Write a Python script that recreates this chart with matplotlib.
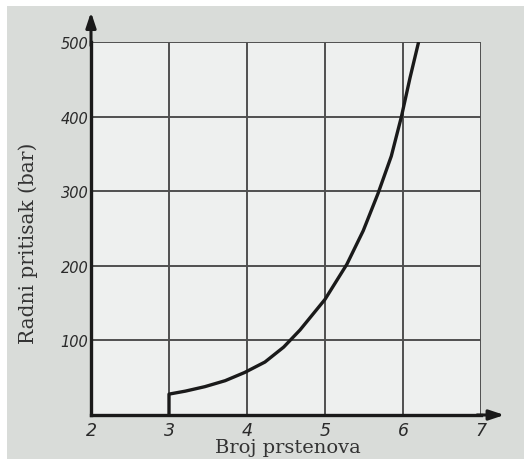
import matplotlib
matplotlib.use("Agg")
import matplotlib.pyplot as plt
from matplotlib.patches import Rectangle

# Data
rings = [3.0, 3.0, 3.21, 3.46, 3.72, 3.97, 4.23, 4.47, 4.68, 5.0, 5.28, 5.49,
         5.68, 5.85, 5.98, 6.09, 6.20]
pressure = [0, 28, 32, 38, 46, 57, 71, 91, 114, 155, 202, 247,
            297, 347, 400, 452, 500]
x_ticks = [2, 3, 4, 5, 6, 7]
y_ticks = [100, 200, 300, 400, 500]
x_label = "Broj prstenova"
y_label = "Radni pritisak (bar)"

W, H = 524, 460
fig = plt.figure(figsize=(W / 100, H / 100), dpi=100, facecolor="white")
# scanned page background
fig.patches.append(Rectangle((7 / W, 0), 1, 1 - 7 / H, transform=fig.transFigure,
                             facecolor="#d9dcd9", edgecolor="none", zorder=-10))

ax = fig.add_axes([91 / W, 1 - 416 / H, 390 / W, 373 / H])
ax.set_facecolor("#eef0ef")
ax.set_xlim(2, 7)
ax.set_ylim(0, 500)

for xv in x_ticks[1:]:
    ax.axvline(xv, color="#4f4f4f", lw=1.4, zorder=1)
for yv in y_ticks:
    ax.axhline(yv, color="#4f4f4f", lw=1.4, zorder=1)

ax.plot(rings, pressure, color="#1a1a1a", lw=2.4, zorder=3,
        solid_capstyle="butt", solid_joinstyle="round")

for s in ["top", "right"]:
    ax.spines[s].set_visible(False)
ax.spines["left"].set_linewidth(2.4)
ax.spines["bottom"].set_linewidth(2.4)
ax.spines["left"].set_color("#1a1a1a")
ax.spines["bottom"].set_color("#1a1a1a")

# axis arrows
ax.annotate("", xy=(2, 540), xytext=(2, 495), annotation_clip=False,
            arrowprops=dict(arrowstyle="-|>,head_length=0.9,head_width=0.3",
                            color="#1a1a1a", lw=2.2, shrinkA=0, shrinkB=0))
ax.annotate("", xy=(7.3, 0), xytext=(6.95, 0), annotation_clip=False,
            arrowprops=dict(arrowstyle="-|>,head_length=0.9,head_width=0.3",
                            color="#1a1a1a", lw=2.2, shrinkA=0, shrinkB=0))

ax.set_xticks(x_ticks)
ax.set_xticklabels([str(v) for v in x_ticks], fontstyle="italic",
                   fontsize=12.5, color="#2a2a2a", family="DejaVu Sans")
ax.set_yticks(y_ticks)
ax.set_yticklabels([str(v) for v in y_ticks], fontstyle="italic",
                   fontsize=10.5, color="#2a2a2a", family="DejaVu Sans")
ax.tick_params(axis="x", length=0, pad=4)
ax.tick_params(axis="y", length=0, pad=2)

fig.text(28 / W, 1 - 243 / H, y_label, rotation=90, ha="center", va="center",
         fontsize=14.5, family="DejaVu Serif", color="#333333")
fig.text(288 / W, 1 - 453 / H, x_label, ha="center", va="baseline",
         fontsize=14, family="DejaVu Serif", color="#333333")

fig.savefig("out.png", dpi=100, facecolor=fig.get_facecolor())
